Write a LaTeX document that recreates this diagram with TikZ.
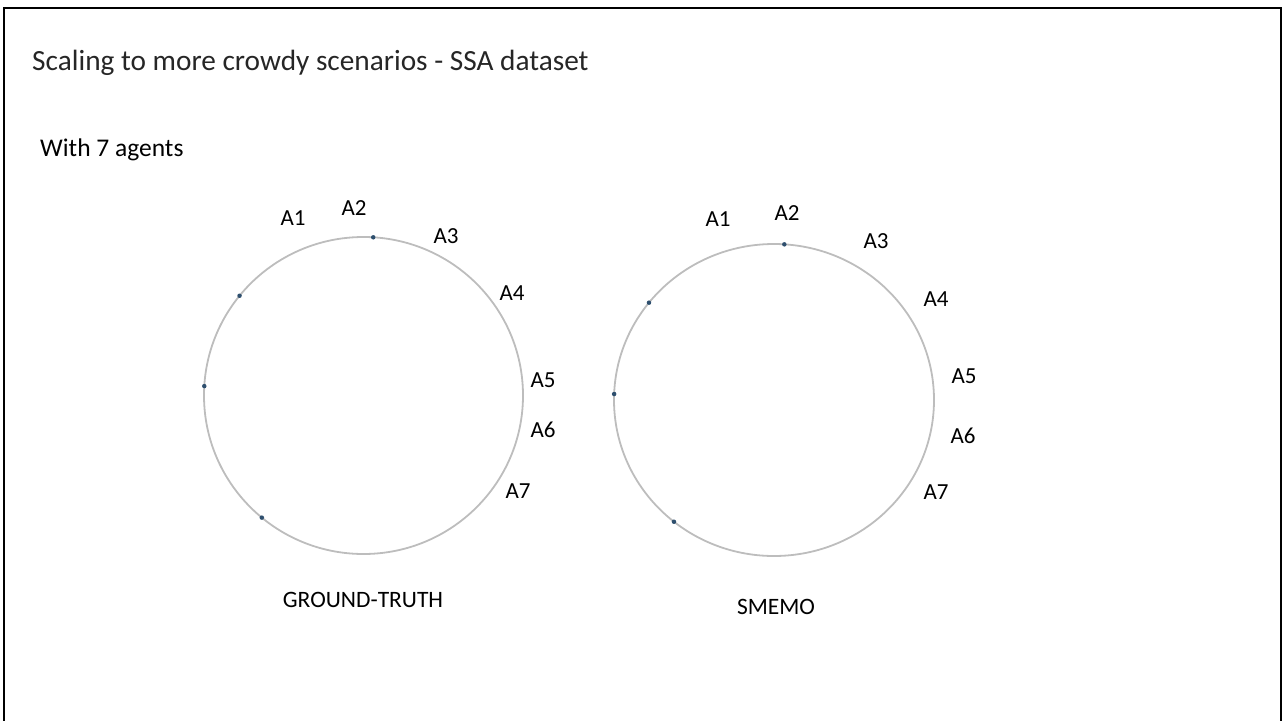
\documentclass[tikz,border=0pt]{standalone}
\usepackage{fontspec}
\setmainfont{Carlito}
\usepackage{tikz}
\usetikzlibrary{calc,positioning}
\definecolor{ringgray}{HTML}{BDBDBD}
\definecolor{dotblue}{HTML}{2E4F6E}
\tikzset{
  slidetitle/.style={anchor=base west, inner sep=0pt, text=black!85, font=\fontsize{29.3}{34}\selectfont},
  subhead/.style={anchor=base west, inner sep=0pt, font=\fontsize{25.5}{30}\selectfont},
  agentlbl/.style={inner sep=0pt, font=\fontsize{23}{27}\selectfont},
  caption/.style={inner sep=0pt, font=\fontsize{23.5}{28}\selectfont},
  ring/.style={draw=ringgray, line width=1.8pt},
  agentdot/.style={circle, fill=dotblue, inner sep=0pt, minimum size=4.5pt}
}

\begin{document}
\begin{tikzpicture}[x=1pt,y=-1pt]
  \useasboundingbox (0,0) rectangle (1284,720);
  % slide frame, open at the bottom
  \draw[line width=2.2pt] (4,730) -- (4,8) -- (1281,8) -- (1281,730);

  \node[slidetitle] (title) at (32,70) {Scaling to more crowdy scenarios - SSA dataset};
  \node[subhead] (agents) at (40,156) {With 7 agents};

  % ground truth ring
  \coordinate (gtc) at (363.5,395.5);
  \draw[ring] (gtc) ellipse [x radius=159.5, y radius=158.5];
  \foreach \a in {86.5,141,176.6,230.4}
    \node[agentdot] at ($(gtc)+(\a:159.5 and -158.5)$) {};
  \node[agentlbl] (gta1) at (293,218) {A1};
  \node[agentlbl] (gta2) at (354,208) {A2};
  \node[agentlbl] (gta3) at (446,236) {A3};
  \node[agentlbl] (gta4) at (512,293) {A4};
  \node[agentlbl] (gta5) at (543,380) {A5};
  \node[agentlbl] (gta6) at (543,430) {A6};
  \node[agentlbl] (gta7) at (518,491) {A7};
  \node[caption] (gtcap) at (363,600) {GROUND-TRUTH};

  % SMEMO ring
  \coordinate (smc) at (774,400);
  \draw[ring] (smc) ellipse [x radius=160, y radius=156];
  \foreach \a in {86.3,141.4,177.8,231.3}
    \node[agentdot] at ($(smc)+(\a:160 and -156)$) {};
  \node[agentlbl] (sma1) at (718,219) {A1};
  \node[agentlbl] (sma2) at (787,213) {A2};
  \node[agentlbl] (sma3) at (876,241) {A3};
  \node[agentlbl] (sma4) at (936,299) {A4};
  \node[agentlbl] (sma5) at (964,376) {A5};
  \node[agentlbl] (sma6) at (963,436) {A6};
  \node[agentlbl] (sma7) at (936,492) {A7};
  \node[caption] (smcap) at (776,607) {SMEMO};
\end{tikzpicture}
\end{document}
